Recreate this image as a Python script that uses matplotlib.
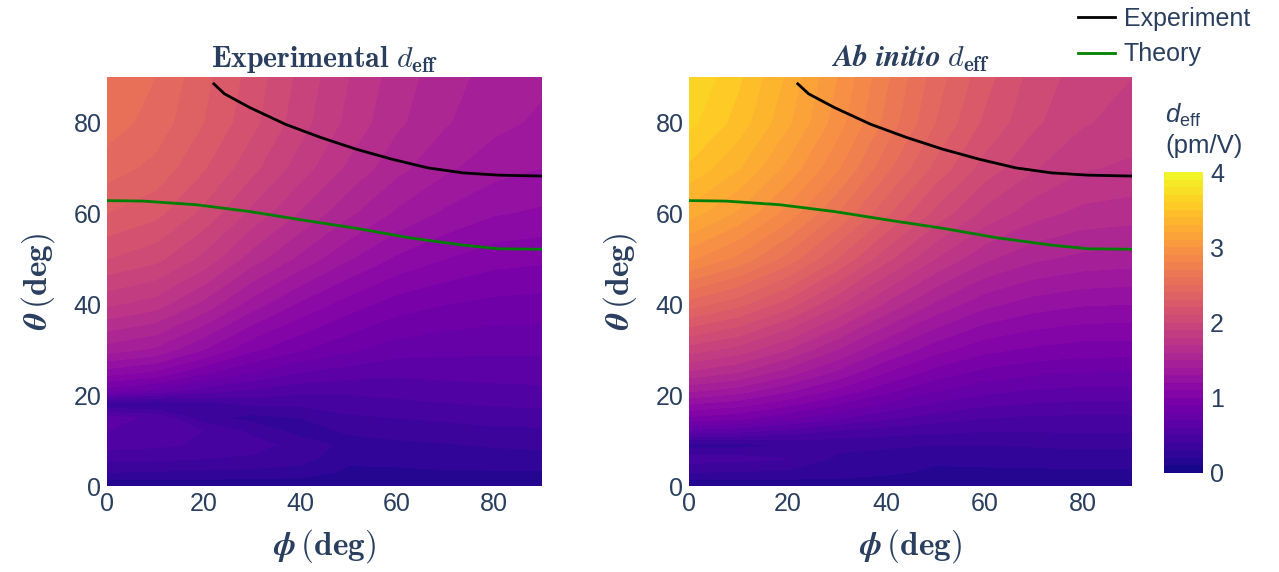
import numpy as np
import matplotlib
matplotlib.use('Agg')
import matplotlib.pyplot as plt

plt.rcParams['font.family'] = ['Liberation Sans', 'DejaVu Sans']
plt.rcParams['mathtext.fontset'] = 'cm'
plt.rcParams['mathtext.rm'] = 'Liberation Sans'
plt.rcParams['mathtext.it'] = 'Liberation Sans:italic'
plt.rcParams['mathtext.bf'] = 'Liberation Sans:bold'

TXT = '#2a3f5f'

# grid of the maps (deg)
phi = [0, 10, 20, 30, 40, 50, 60, 70, 80, 90]
theta = [0, 3, 6, 9, 12, 15, 18, 21, 25, 30, 40, 50, 60, 70, 80, 90]

# experimental d_eff (pm/V), rows = theta, cols = phi
d_exp = [
    [0.12, 0.12, 0.12, 0.12, 0.12, 0.12, 0.12, 0.12, 0.12, 0.12],
    [0.30, 0.29, 0.28, 0.27, 0.25, 0.18, 0.18, 0.19, 0.19, 0.19],
    [0.43, 0.42, 0.40, 0.38, 0.34, 0.22, 0.23, 0.24, 0.25, 0.26],
    [0.53, 0.52, 0.48, 0.44, 0.36, 0.27, 0.28, 0.29, 0.31, 0.32],
    [0.60, 0.58, 0.50, 0.38, 0.26, 0.31, 0.33, 0.35, 0.37, 0.38],
    [0.63, 0.58, 0.34, 0.26, 0.30, 0.38, 0.40, 0.42, 0.44, 0.45],
    [0.30, 0.28, 0.34, 0.42, 0.42, 0.45, 0.47, 0.49, 0.51, 0.52],
    [0.85, 0.78, 0.65, 0.58, 0.53, 0.52, 0.54, 0.56, 0.57, 0.58],
    [1.15, 1.08, 0.92, 0.80, 0.70, 0.65, 0.62, 0.63, 0.64, 0.64],
    [1.45, 1.38, 1.20, 1.02, 0.91, 0.82, 0.75, 0.73, 0.72, 0.72],
    [1.82, 1.75, 1.57, 1.35, 1.18, 1.05, 0.95, 0.90, 0.87, 0.86],
    [2.10, 2.03, 1.87, 1.65, 1.47, 1.31, 1.18, 1.10, 1.04, 1.02],
    [2.30, 2.23, 2.07, 1.87, 1.69, 1.52, 1.38, 1.28, 1.21, 1.18],
    [2.45, 2.37, 2.21, 2.03, 1.85, 1.68, 1.53, 1.42, 1.34, 1.30],
    [2.55, 2.46, 2.30, 2.13, 1.94, 1.77, 1.62, 1.51, 1.43, 1.38],
    [2.58, 2.50, 2.33, 2.16, 1.97, 1.80, 1.65, 1.54, 1.46, 1.42],
]

# ab initio d_eff (pm/V)
d_abi = [
    [0.12, 0.12, 0.12, 0.12, 0.12, 0.12, 0.12, 0.12, 0.12, 0.12],
    [0.30, 0.29, 0.28, 0.26, 0.22, 0.18, 0.18, 0.18, 0.18, 0.18],
    [0.45, 0.44, 0.40, 0.28, 0.24, 0.22, 0.23, 0.24, 0.25, 0.25],
    [0.25, 0.26, 0.30, 0.33, 0.32, 0.30, 0.30, 0.31, 0.32, 0.32],
    [0.65, 0.62, 0.55, 0.48, 0.44, 0.42, 0.40, 0.40, 0.41, 0.41],
    [0.98, 0.93, 0.83, 0.72, 0.62, 0.55, 0.50, 0.48, 0.48, 0.48],
    [1.20, 1.14, 1.03, 0.90, 0.78, 0.68, 0.62, 0.59, 0.57, 0.57],
    [1.42, 1.35, 1.22, 1.08, 0.93, 0.81, 0.73, 0.69, 0.67, 0.67],
    [1.68, 1.60, 1.45, 1.28, 1.10, 0.96, 0.87, 0.82, 0.80, 0.79],
    [1.95, 1.86, 1.70, 1.50, 1.30, 1.14, 1.03, 0.98, 0.95, 0.95],
    [2.45, 2.33, 2.15, 1.92, 1.68, 1.48, 1.33, 1.25, 1.21, 1.20],
    [2.92, 2.77, 2.56, 2.30, 2.03, 1.80, 1.62, 1.52, 1.47, 1.45],
    [3.25, 3.08, 2.86, 2.60, 2.32, 2.07, 1.87, 1.74, 1.67, 1.65],
    [3.48, 3.31, 3.07, 2.82, 2.53, 2.27, 2.06, 1.91, 1.81, 1.78],
    [3.63, 3.46, 3.22, 2.95, 2.67, 2.40, 2.18, 2.02, 1.91, 1.86],
    [3.70, 3.52, 3.28, 3.00, 2.72, 2.45, 2.24, 2.06, 1.95, 1.90],
]

# phase-matching curves
exp_phi = [22.1, 24.3, 29.5, 36.9, 44.2, 51.6, 59.0, 66.4, 73.7, 81.1, 90.0]
exp_theta = [88.5, 86.3, 83.3, 79.6, 76.7, 74.1, 71.9, 70.0, 68.9, 68.4, 68.2]
th_phi = [0.0, 7.4, 18.4, 29.5, 40.6, 51.6, 62.7, 73.7, 81.1, 90.0]
th_theta = [62.8, 62.7, 61.9, 60.4, 58.5, 56.7, 54.6, 53.0, 52.2, 52.1]

levels = np.arange(0, 4.01, 0.1)

fig = plt.figure(figsize=(12.79, 5.72), dpi=100)
fig.patch.set_facecolor('white')

axes = [fig.add_axes([107/1279, 1 - 486/572, 435/1279, 409/572]),
        fig.add_axes([689/1279, 1 - 486/572, 443/1279, 409/572])]

for ax, z in zip(axes, [d_exp, d_abi]):
    cs = ax.contourf(phi, theta, np.array(z), levels=levels, cmap='plasma',
                     vmin=0, vmax=4)
    l1, = ax.plot(exp_phi, exp_theta, color='black', lw=2, label='Experiment')
    l2, = ax.plot(th_phi, th_theta, color='green', lw=2, label='Theory')
    ax.set_xlim(0, 90)
    ax.set_ylim(0, 90)
    ax.set_xticks([0, 20, 40, 60, 80])
    ax.set_yticks([0, 20, 40, 60, 80])
    for s in ax.spines.values():
        s.set_visible(False)
    ax.tick_params(length=0, labelsize=18, colors=TXT, pad=4)
    ax.set_xlabel(r'$\boldsymbol{\phi}\,\mathbf{(deg)}$', fontsize=24,
                  color=TXT, labelpad=8, math_fontfamily='cm')
    ax.set_ylabel(r'$\boldsymbol{\theta}\,\mathbf{(deg)}$', fontsize=24,
                  color=TXT, labelpad=12, math_fontfamily='cm')

axes[0].set_title(r'$\mathbf{Experimental}\ d_{\mathbf{eff}}$', fontsize=21.5,
                  color=TXT, pad=7, math_fontfamily='cm')
axes[1].set_title(r'Ab initio $d_{\mathbf{eff}}$', fontsize=21.5, color=TXT, pad=7,
                  family='STIXGeneral', fontweight='bold', fontstyle='italic',
                  math_fontfamily='cm')

cax = fig.add_axes([1164/1279, 1 - 473/572, 39/1279, 301/572])
cb = fig.colorbar(cs, cax=cax, ticks=[0, 1, 2, 3, 4])
cb.outline.set_visible(False)
cax.tick_params(length=0, labelsize=18, colors=TXT, pad=5)
fig.text(1165/1279, 1 - 158/572, '$d_{\\mathrm{eff}}$\n(pm/V)', fontsize=18.5,
         color=TXT, ha='left', va='bottom', math_fontfamily='custom',
         linespacing=1.25)

fig.legend(handles=[l1, l2], loc='upper left',
           bbox_to_anchor=(1055/1279, 1.027), frameon=False, fontsize=18,
           handlelength=1.5, handletextpad=0.35, labelspacing=0.45,
           labelcolor=TXT)

fig.savefig('out.png', dpi=100, facecolor='white')
